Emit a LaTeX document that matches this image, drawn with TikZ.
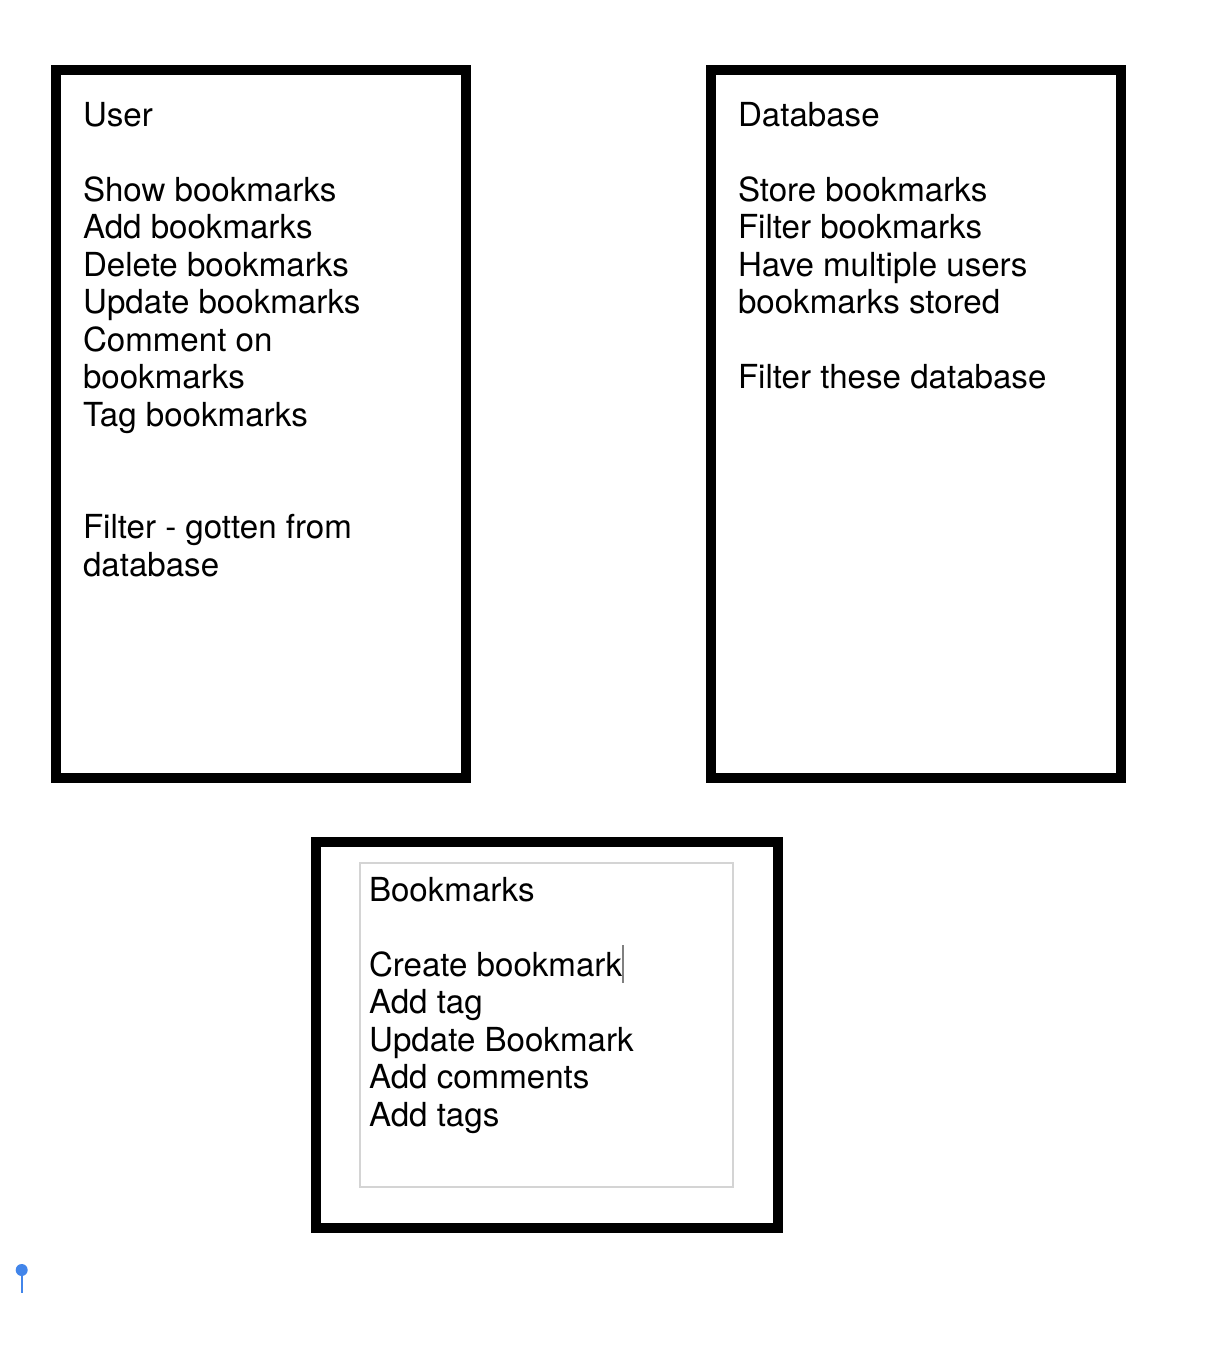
\documentclass[tikz,border=0pt]{standalone}
\usepackage{fontspec}
\setmainfont{TeX Gyre Heros}
\definecolor{pinblue}{RGB}{66,133,234}
\definecolor{lightframe}{RGB}{212,212,212}
\definecolor{cursorgrey}{RGB}{128,128,128}
\tikzset{
  panel/.style={draw=black, line width=5pt, fill=none, inner sep=0pt, rectangle},
  innerframe/.style={draw=lightframe, line width=1pt, fill=none, inner sep=0pt, rectangle},
  notes/.style={anchor=north west, align=left, inner sep=0pt, outer sep=0pt,
    font=\fontsize{16.55pt}{18.75pt}\selectfont},
}
\begin{document}
\begin{tikzpicture}[x=0.5pt, y=-0.5pt]
\useasboundingbox (0,0) rectangle (1224,1348);
\fill[white] (0,0) rectangle (1224,1348);

% panels
\node[panel, minimum width=205pt, minimum height=354pt] (user) at (261,424) {};
\node[panel, minimum width=205pt, minimum height=354pt] (db) at (916,424) {};
\node[panel, minimum width=231pt, minimum height=193pt] (bm) at (547,1035) {};
\node[innerframe, minimum width=186.5pt, minimum height=162pt] (bmframe) at (546.5,1025) {};

% texts
\node[notes] (usertext) at (83,102) {User\\[18.75pt]Show bookmarks\\Add bookmarks\\Delete bookmarks\\Update bookmarks\\Comment on\\bookmarks\\Tag bookmarks\\[37.5pt]Filter - gotten from\\database};
\node[notes] (dbtext) at (738,102) {Database\\[18.75pt]Store bookmarks\\Filter bookmarks\\Have multiple users\\bookmarks stored\\[18.75pt]Filter these database};
\node[notes] (bmtext) at (369,877) {Bookmarks\\[18.75pt]Create bookmark\\Add tag\\Update Bookmark\\Add comments\\Add tags};

% text cursor
\coordinate (curtop) at (623,945);
\coordinate (curbot) at (623,983);
\draw[cursorgrey, line width=0.7pt] (curtop) -- (curbot);

% pin
\coordinate (pinhead) at (21.7,1270);
\coordinate (pinfoot) at (21.7,1293);
\draw[pinblue, line width=1.15pt] (pinhead) -- (pinfoot);
\fill[pinblue] (pinhead) circle[radius=3pt];
\end{tikzpicture}
\end{document}
